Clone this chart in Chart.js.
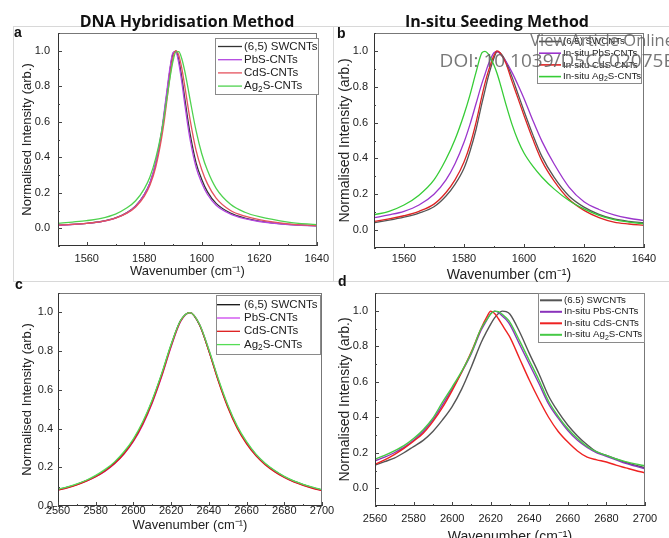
<!DOCTYPE html>
<html>
<head>
<meta charset="utf-8">
<script src="https://cdn.jsdelivr.net/npm/chart.js@4.4.1/dist/chart.umd.min.js"></script>
<style>
html, body { margin: 0; padding: 0; background: #fff; }
#page { position: relative; width: 669px; height: 538px; overflow: hidden; background: #fff; }
canvas { position: absolute; }
.t { position: absolute; white-space: nowrap; color: #111; font-family: "Liberation Sans", Arial, sans-serif; }
.head { font-family: "Open Sans", "Liberation Sans", sans-serif; font-weight: 700; font-size: 16px; width: 300px; text-align: center; line-height: 20px; }
.lett { font-weight: 700; font-size: 14px; line-height: 14px; }
.wm { font-family: "Open Sans", sans-serif; color: rgba(95,95,95,0.85); text-align: right; right: -5px; }
.rule { position: absolute; background: #d8d8d8; }
</style>
</head>
<body>
<div id="page">
  <div class="rule" style="left:13px;top:26px;width:656px;height:1px"></div>
  <div class="rule" style="left:13px;top:281px;width:656px;height:1px"></div>
  <div class="rule" style="left:13px;top:26px;width:1px;height:256px"></div>
  <div class="rule" style="left:333px;top:26px;width:1px;height:256px"></div>

  <canvas id="cA" width="335" height="290" style="left:0;top:0"></canvas>
  <canvas id="cB" width="334" height="290" style="left:335px;top:0"></canvas>
  <canvas id="cC" width="335" height="268" style="left:0;top:270px"></canvas>
  <canvas id="cD" width="334" height="290" style="left:335px;top:270px"></canvas>

  <div class="t head" style="left:37px;top:11px">DNA Hybridisation Method</div>
  <div class="t head" style="left:347px;top:11px">In-situ Seeding Method</div>
  <div class="t lett" style="left:14px;top:25px">a</div>
  <div class="t lett" style="left:337px;top:26px">b</div>
  <div class="t lett" style="left:15px;top:277px">c</div>
  <div class="t lett" style="left:338px;top:274px">d</div>

  <div class="t wm" style="top:29px;font-size:16.5px;line-height:22px">View Article Online</div>
  <div class="t wm" style="top:48px;font-size:19px;line-height:24px">DOI: 10.1039/D5CC02075E</div>
</div>

<script>
// ---- data ----
const waveA = [1550, 1555, 1560, 1565, 1570, 1574, 1577, 1580, 1582, 1584, 1586, 1587, 1588, 1589, 1590,
  1591, 1592, 1593, 1594, 1595, 1596, 1598, 1600, 1602, 1605, 1610, 1615, 1620, 1630, 1640];
const a65 = [0.018, 0.022, 0.028, 0.038, 0.058, 0.088, 0.125, 0.19, 0.255, 0.365, 0.535, 0.65, 0.776, 0.897, 0.985,
  0.998, 0.949, 0.856, 0.742, 0.629, 0.527, 0.37, 0.275, 0.205, 0.14, 0.085, 0.057, 0.04, 0.022, 0.013];
const aPbS = [0.017, 0.021, 0.027, 0.037, 0.057, 0.087, 0.124, 0.19, 0.256, 0.37, 0.545, 0.665, 0.79, 0.91, 0.99,
  0.993, 0.93, 0.83, 0.71, 0.595, 0.495, 0.345, 0.255, 0.19, 0.13, 0.08, 0.054, 0.038, 0.021, 0.013];
const aCdS = [0.018, 0.022, 0.028, 0.037, 0.057, 0.085, 0.12, 0.18, 0.243, 0.345, 0.505, 0.61, 0.735, 0.862, 0.962,
  1.0, 0.975, 0.906, 0.81, 0.706, 0.606, 0.44, 0.33, 0.25, 0.17, 0.1, 0.068, 0.048, 0.025, 0.015];
const aAg2S = [0.028, 0.035, 0.043, 0.056, 0.08, 0.115, 0.155, 0.222, 0.29, 0.395, 0.543, 0.64, 0.746, 0.852, 0.941,
  0.993, 0.995, 0.958, 0.892, 0.809, 0.719, 0.551, 0.42, 0.325, 0.225, 0.135, 0.09, 0.065, 0.035, 0.02];

const waveB = [1550, 1555, 1560, 1565, 1570, 1574, 1577, 1580, 1582, 1584, 1586, 1587, 1588, 1590, 1591,
  1592, 1594, 1596, 1598, 1600, 1603, 1606, 1610, 1615, 1620, 1625, 1630, 1635, 1640];
const b65 = [0.041, 0.055, 0.072, 0.095, 0.13, 0.19, 0.255, 0.345, 0.44, 0.56, 0.71, 0.78, 0.85, 0.96, 0.995,
  0.99, 0.94, 0.855, 0.76, 0.665, 0.53, 0.41, 0.295, 0.19, 0.128, 0.088, 0.062, 0.049, 0.041];
const bPbS = [0.069, 0.085, 0.105, 0.14, 0.2, 0.28, 0.37, 0.49, 0.59, 0.705, 0.82, 0.87, 0.92, 0.99, 0.998,
  0.985, 0.94, 0.88, 0.81, 0.735, 0.61, 0.495, 0.37, 0.24, 0.158, 0.115, 0.085, 0.066, 0.054];
const bCdS = [0.049, 0.062, 0.08, 0.105, 0.145, 0.21, 0.28, 0.38, 0.475, 0.6, 0.75, 0.82, 0.88, 0.975, 1.0,
  0.99, 0.93, 0.83, 0.735, 0.64, 0.505, 0.385, 0.275, 0.172, 0.11, 0.07, 0.045, 0.034, 0.026];
const bAg2S = [0.085, 0.105, 0.14, 0.195, 0.28, 0.395, 0.505, 0.645, 0.755, 0.88, 0.99, 0.998, 0.985, 0.92, 0.875,
  0.82, 0.7, 0.59, 0.5, 0.43, 0.355, 0.295, 0.23, 0.165, 0.118, 0.082, 0.058, 0.045, 0.035];

const waveC = [2560, 2565, 2570, 2575, 2580, 2585, 2590, 2595, 2600, 2605, 2610, 2615, 2620, 2625, 2630,
  2635, 2640, 2645, 2650, 2655, 2660, 2665, 2670, 2675, 2680, 2685, 2690, 2695, 2700];
const c65 = [0.085, 0.097, 0.112, 0.131, 0.155, 0.185, 0.224, 0.275, 0.342, 0.43, 0.543, 0.68, 0.832, 0.957, 0.999,
  0.936, 0.802, 0.65, 0.516, 0.408, 0.327, 0.264, 0.217, 0.18, 0.151, 0.128, 0.11, 0.095, 0.083];
const cPbS = [0.083, 0.095, 0.11, 0.128, 0.151, 0.18, 0.218, 0.268, 0.333, 0.42, 0.532, 0.668, 0.822, 0.952, 0.999,
  0.94, 0.806, 0.652, 0.516, 0.407, 0.325, 0.262, 0.215, 0.178, 0.149, 0.126, 0.108, 0.093, 0.081];
const cCdS = [0.082, 0.094, 0.109, 0.128, 0.151, 0.181, 0.219, 0.27, 0.336, 0.424, 0.536, 0.672, 0.826, 0.954, 0.999,
  0.937, 0.8, 0.645, 0.51, 0.402, 0.321, 0.259, 0.212, 0.176, 0.147, 0.124, 0.106, 0.091, 0.079];
const cAg2S = [0.087, 0.099, 0.114, 0.133, 0.158, 0.189, 0.228, 0.28, 0.347, 0.436, 0.549, 0.685, 0.835, 0.958, 0.999,
  0.94, 0.808, 0.657, 0.523, 0.414, 0.332, 0.268, 0.22, 0.183, 0.153, 0.13, 0.112, 0.097, 0.085];

const waveD = [2560, 2565, 2570, 2575, 2580, 2585, 2590, 2595, 2600, 2605, 2610, 2615, 2618, 2620, 2622, 2624, 2626,
  2628, 2630, 2635, 2640, 2645, 2650, 2655, 2660, 2665, 2670, 2675, 2680, 2685, 2690, 2695, 2700];
const d65 = [0.13, 0.15, 0.17, 0.2, 0.235, 0.27, 0.32, 0.385, 0.46, 0.56, 0.685, 0.82, 0.885, 0.925, 0.96, 0.985, 0.998,
  0.995, 0.98, 0.88, 0.76, 0.645, 0.52, 0.43, 0.355, 0.295, 0.245, 0.205, 0.185, 0.165, 0.145, 0.13, 0.115];
const dPbS = [0.155, 0.175, 0.2, 0.23, 0.27, 0.32, 0.385, 0.47, 0.56, 0.655, 0.76, 0.89, 0.948, 0.985, 0.998, 0.99, 0.97,
  0.95, 0.92, 0.81, 0.7, 0.59, 0.475, 0.395, 0.325, 0.27, 0.23, 0.2, 0.18, 0.16, 0.14, 0.125, 0.11];
const dCdS = [0.135, 0.16, 0.19, 0.225, 0.265, 0.31, 0.375, 0.455, 0.55, 0.655, 0.77, 0.9, 0.965, 0.998, 0.985, 0.955, 0.92,
  0.885, 0.85, 0.73, 0.61, 0.5, 0.4, 0.32, 0.26, 0.21, 0.175, 0.16, 0.148, 0.13, 0.115, 0.1, 0.087];
const dAg2S = [0.164, 0.185, 0.21, 0.24, 0.28, 0.33, 0.395, 0.485, 0.57, 0.66, 0.765, 0.9, 0.95, 0.982, 0.998, 0.995, 0.98,
  0.96, 0.935, 0.83, 0.72, 0.61, 0.49, 0.405, 0.335, 0.28, 0.235, 0.205, 0.185, 0.165, 0.15, 0.137, 0.126];

const labelsHyb = ['(6,5) SWCNTs', 'PbS-CNTs', 'CdS-CNTs', 'Ag_2S-CNTs'];
const labelsSeed = ['(6.5) SWCNTs', 'In-situ PbS-CNTs', 'In-situ CdS-CNTs', 'In-situ Ag_2S-CNTs'];
const xTicksG = [1560, 1580, 1600, 1620, 1640];
const xTicks2D = [2560, 2580, 2600, 2620, 2640, 2660, 2680, 2700];
const yTicks = [0, 0.2, 0.4, 0.6, 0.8, 1.0];

const FONT = '"Liberation Sans", Arial, sans-serif';

// draws "_2" as a subscript 2
function drawLabel(ctx, text, x, y, size) {
  const parts = text.split('_');
  let cx = x;
  ctx.font = size + 'px ' + FONT;
  ctx.fillText(parts[0], cx, y);
  cx += ctx.measureText(parts[0]).width;
  for (let i = 1; i < parts.length; i++) {
    const sub = parts[i][0], rest = parts[i].slice(1);
    ctx.font = (size * 0.72) + 'px ' + FONT;
    ctx.fillText(sub, cx, y + size * 0.3);
    cx += ctx.measureText(sub).width;
    ctx.font = size + 'px ' + FONT;
    ctx.fillText(rest, cx, y);
    cx += ctx.measureText(rest).width;
  }
}

const decor = {
  id: 'decor',
  afterDraw(chart, args, o) {
    const {ctx, chartArea: ca, scales: {x, y}} = chart;
    ctx.save();
    // frame
    ctx.lineWidth = 1;
    ctx.strokeStyle = '#777';
    ctx.strokeRect(Math.round(ca.left) + 0.5, Math.round(ca.top) + 0.5,
      Math.round(ca.right - ca.left) - 1, Math.round(ca.bottom - ca.top) - 1);
    ctx.strokeStyle = '#333';
    ctx.beginPath();
    ctx.moveTo(Math.round(ca.left) + 0.5, ca.top);
    ctx.lineTo(Math.round(ca.left) + 0.5, ca.bottom);
    ctx.moveTo(ca.left, Math.round(ca.bottom) - 0.5);
    ctx.lineTo(ca.right, Math.round(ca.bottom) - 0.5);
    ctx.stroke();
    // inward ticks, major + minor
    ctx.strokeStyle = '#444';
    ctx.beginPath();
    const xs = x.options.min, xe = x.options.max;
    for (let v = Math.ceil(xs / o.xMinor) * o.xMinor; v <= xe + 1e-9; v += o.xMinor) {
      const px = Math.round(x.getPixelForValue(v)) + 0.5;
      const major = Math.abs(v / (2 * o.xMinor) - Math.round(v / (2 * o.xMinor))) < 1e-6;
      const len = major ? 4 : 2;
      ctx.moveTo(px, ca.bottom);
      ctx.lineTo(px, ca.bottom - len);
    }
    const ys = y.options.min, ye = y.options.max;
    for (let k = Math.ceil(ys * 10 - 1e-6); k <= Math.floor(ye * 10 + 1e-6); k++) {
      const py = Math.round(y.getPixelForValue(k / 10)) + 0.5;
      const len = (k % 2 === 0) ? 4 : 2;
      ctx.moveTo(ca.left, py);
      ctx.lineTo(ca.left + len, py);
    }
    ctx.stroke();
    // legend
    const L = o.legend;
    ctx.fillStyle = '#fff';
    ctx.fillRect(L.x, L.y, L.w, L.h);
    ctx.strokeStyle = '#8a8a8a';
    ctx.strokeRect(L.x + 0.5, L.y + 0.5, L.w - 1, L.h - 1);
    ctx.textBaseline = 'middle';
    ctx.textAlign = 'left';
    chart.data.datasets.forEach((ds, i) => {
      const ry = L.row0 + i * L.dy;
      ctx.strokeStyle = ds.borderColor;
      ctx.lineWidth = L.lw;
      ctx.beginPath();
      ctx.moveTo(L.l0, ry);
      ctx.lineTo(L.l1, ry);
      ctx.stroke();
      ctx.fillStyle = '#222';
      drawLabel(ctx, ds.label, L.tx, ry, L.size);
    });
    ctx.restore();
  }
};

function makeChart(id, p) {
  const datasets = p.series.map((vals, i) => ({
    label: p.labels[i],
    data: p.wave.map((w, j) => ({x: w, y: vals[j]})),
    borderColor: p.colors[i],
    borderWidth: p.lw,
    pointRadius: 0,
    cubicInterpolationMode: 'monotone',
    order: 4 - i
  }));
  const tickFont = {family: FONT, size: 11};
  const titleFont = {family: FONT, size: p.titleSize};
  return new Chart(document.getElementById(id), {
    type: 'line',
    data: {datasets},
    options: {
      responsive: false,
      animation: false,
      devicePixelRatio: 1,
      layout: {padding: {left: 0, top: p.top, right: p.right, bottom: 0}},
      plugins: {
        legend: {display: false},
        tooltip: {enabled: false},
        decor: {legend: p.legend, xMinor: 10}
      },
      scales: {
        x: {
          type: 'linear', min: p.xmin, max: p.xmax,
          afterBuildTicks: s => { s.ticks = p.xTicks.map(v => ({value: v})); },
          afterFit: s => { s.height = p.xh; },
          grid: {display: false, drawTicks: false},
          border: {display: false},
          ticks: {font: tickFont, color: '#222', padding: p.xpad, maxRotation: 0, autoSkip: false,
            callback: v => String(v)},
          title: {display: true, text: 'Wavenumber (cm⁻¹)', font: titleFont, color: '#222',
            padding: {top: 0, bottom: p.xtp}}
        },
        y: {
          type: 'linear', min: p.ymin, max: 1.1,
          afterBuildTicks: s => { s.ticks = yTicks.map(v => ({value: v})); },
          afterFit: s => { s.width = p.yw; },
          grid: {display: false, drawTicks: false},
          border: {display: false},
          ticks: {font: tickFont, color: '#222', padding: p.ypad, callback: v => v.toFixed(1)},
          title: {display: true, text: 'Normalised Intensity (arb.)', font: titleFont, color: '#222',
            padding: {top: p.ytp, bottom: 0}}
        }
      }
    },
    plugins: [decor]
  });
}

makeChart('cA', {
  wave: waveA, series: [a65, aPbS, aCdS, aAg2S], labels: labelsHyb,
  colors: ['#333333', '#b347e0', '#e5525e', '#4fd24f'], lw: 1.3,
  xmin: 1550, xmax: 1640, ymin: -0.1, xTicks: xTicksG,
  top: 33, right: 13, xh: 44, yw: 58, xpad: 6, xtp: 11, ypad: 8, ytp: 20, titleSize: 13,
  legend: {x: 215, y: 38, w: 104, h: 57, row0: 46.5, dy: 13.2, l0: 218, l1: 242, tx: 244, size: 11.5, lw: 1.3}
});
makeChart('cB', {
  wave: waveB, series: [b65, bPbS, bCdS, bAg2S], labels: labelsSeed,
  colors: ['#555555', '#9b35cc', '#dd2424', '#36cc36'], lw: 1.3,
  xmin: 1550, xmax: 1640, ymin: -0.1, xTicks: xTicksG,
  top: 33, right: 25, xh: 42, yw: 39, xpad: 4.5, xtp: 6.6, ypad: 6, ytp: 1.6, titleSize: 14,
  legend: {x: 202, y: 35, w: 105, h: 49, row0: 41.5, dy: 11.7, l0: 204, l1: 226, tx: 228, size: 9.7, lw: 1.6}
});
makeChart('cC', {
  wave: waveC, series: [c65, cPbS, cCdS, cAg2S], labels: labelsHyb,
  colors: ['#111111', '#cc44ee', '#dd1a1a', '#55dd55'], lw: 1.3,
  xmin: 2560, xmax: 2700, ymin: 0, xTicks: xTicks2D,
  top: 23, right: 13, xh: 32, yw: 58, xpad: -2, xtp: 5.2, ypad: 5, ytp: 19.2, titleSize: 13,
  legend: {x: 216, y: 25, w: 105, h: 60, row0: 34.7, dy: 13.3, l0: 217, l1: 240, tx: 244, size: 11.5, lw: 1.3}
});
makeChart('cD', {
  wave: waveD, series: [d65, dPbS, dCdS, dAg2S], labels: labelsSeed,
  colors: ['#555555', '#8a33bb', '#ee2222', '#46c946'], lw: 1.4,
  xmin: 2560, xmax: 2700, ymin: -0.1, xTicks: xTicks2D,
  top: 23, right: 24, xh: 54, yw: 40, xpad: 6, xtp: 14, ypad: 7, ytp: 1.6, titleSize: 14,
  legend: {x: 203, y: 23, w: 107, h: 50, row0: 30.3, dy: 11.5, l0: 205, l1: 227, tx: 229, size: 9.7, lw: 2}
});
</script>
</body>
</html>
